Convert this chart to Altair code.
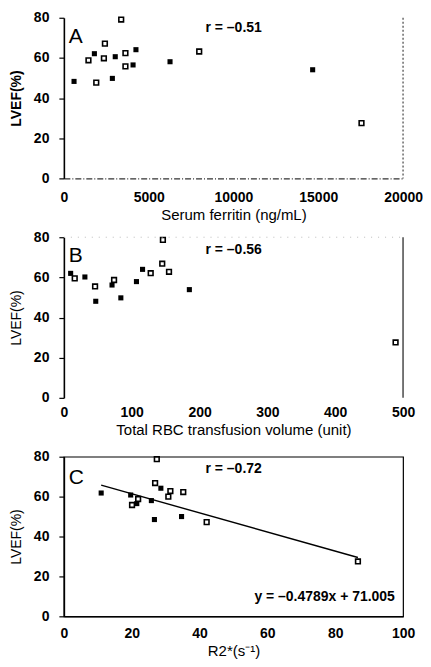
import altair as alt
import pandas as pd

# ---- data ----
A_open_x = [1450, 1910, 2360, 2420, 3380, 3630, 3630, 7980, 17550]
A_open_y = [58.8, 47.7, 59.8, 67.1, 79.1, 62.4, 55.8, 63.2, 27.5]
A_filled_x = [600, 1800, 2860, 3030, 4080, 4250, 6260, 14670]
A_filled_y = [48.3, 62.1, 49.8, 60.6, 56.5, 64.1, 58.1, 54.1]

B_open_x = [16, 46, 74, 128, 145, 146, 155, 489]
B_open_y = [59.5, 55.5, 58.7, 62.1, 66.8, 78.7, 62.8, 27.6]
B_filled_x = [10, 31, 47, 71, 84, 107, 116, 185]
B_filled_y = [62.0, 60.2, 48.1, 56.2, 49.8, 57.9, 64.0, 53.9]

C_open_x = [20.1, 21.9, 26.9, 27.4, 30.8, 31.4, 35.2, 42.1, 86.7]
C_open_y = [55.8, 58.8, 66.8, 78.8, 60.0, 62.8, 62.3, 47.2, 27.5]
C_filled_x = [11.0, 19.7, 21.5, 25.8, 26.7, 28.6, 34.7]
C_filled_y = [61.8, 60.8, 56.5, 58.0, 48.5, 64.2, 50.0]

C_slope = -0.4789
C_intercept = 71.005

FONT = "Liberation Sans"
W, H = 340, 161


def make_df(ox, oy, fx, fy):
    return pd.DataFrame({
        "x": list(ox) + list(fx),
        "y": list(oy) + list(fy),
        "g": ["open"] * len(ox) + ["filled"] * len(fx),
    })


one = pd.DataFrame({"k": [0]})


def encodings(xdom, xvals, xtitle, xlabelpad, ytitle_bold, xdomain_style):
    xaxis = alt.Axis(values=xvals, format="d", title=xtitle, grid=False,
                     ticks=False, labelPadding=xlabelpad, titlePadding=3,
                     labelFont=FONT, labelFontSize=14, labelFontWeight="bold",
                     labelColor="black", titleFont=FONT, titleFontSize=15,
                     titleFontWeight="normal", titleColor="black",
                     labelFlush=False, **xdomain_style)
    yaxis = alt.Axis(values=[0, 20, 40, 60, 80], title="LVEF(%)", grid=False,
                     tickSize=5, tickColor="black", tickWidth=1.2,
                     labelPadding=10, titlePadding=10,
                     labelFont=FONT, labelFontSize=14, labelFontWeight="bold",
                     labelColor="black", titleFont=FONT, titleFontSize=14,
                     titleFontWeight="bold" if ytitle_bold else "normal",
                     titleColor="black", domainColor="black", domainWidth=1.6,
                     labelFlush=False, labelOverlap=False)
    x = alt.X("x:Q", scale=alt.Scale(domain=xdom, nice=False, zero=False), axis=xaxis)
    y = alt.Y("y:Q", scale=alt.Scale(domain=[0, 80], nice=False), axis=yaxis)
    return x, y


def points(df, x, y):
    opens = alt.Chart(df).transform_filter(alt.datum.g == "open").mark_point(
        shape="square", filled=False, stroke="black", strokeWidth=1.6, size=22,
        opacity=1).encode(x=x, y=y)
    filled = alt.Chart(df).transform_filter(alt.datum.g == "filled").mark_square(
        color="black", size=26, opacity=1).encode(x=x, y=y)
    return [opens, filled]


def labels(letter, rtext, ly=19, ry=11):
    let = alt.Chart(one).mark_text(
        text=letter, font=FONT, fontSize=21, align="left", baseline="middle",
        color="black").encode(x=alt.value(5), y=alt.value(ly))
    rt = alt.Chart(one).mark_text(
        text=rtext, font=FONT, fontSize=14, fontWeight="bold", align="left",
        baseline="middle", color="black").encode(x=alt.value(142), y=alt.value(ry))
    return [let, rt]


# Panel A
dfA = make_df(A_open_x, A_open_y, A_filled_x, A_filled_y)
xA, yA = encodings([0, 20000], [0, 5000, 10000, 15000, 20000],
                   "Serum ferritin (ng/mL)", 12, True,
                   dict(domainColor="#333", domainWidth=1.2, domainDash=[6, 2, 1, 2]))
borderA = alt.Chart(one).mark_rule(color="#444", strokeWidth=1.2, strokeDash=[2, 2]).encode(
    x=alt.value(W), y=alt.value(0), y2=alt.value(H))
chartA = alt.layer(*points(dfA, xA, yA), *labels("A", "r = \u20130.51", 19, 10),
                   borderA).properties(width=W, height=H,
                                       view=alt.ViewBackground(stroke=None))

# Panel B
dfB = make_df(B_open_x, B_open_y, B_filled_x, B_filled_y)
xB, yB = encodings([0, 500], [0, 100, 200, 300, 400, 500],
                   "Total RBC transfusion volume (unit)", 8, False, dict(domain=False))
borderB1 = alt.Chart(one).mark_rule(color="#555", strokeWidth=1.6).encode(
    x=alt.value(W), y=alt.value(0), y2=alt.value(H))
borderB2 = alt.Chart(one).mark_rule(color="#bbb", strokeWidth=1, strokeDash=[1, 6]).encode(
    x=alt.value(0), x2=alt.value(W), y=alt.value(0))
chartB = alt.layer(*points(dfB, xB, yB), *labels("B", "r = \u20130.56", 19, 13),
                   borderB1, borderB2).properties(width=W, height=H,
                                                  view=alt.ViewBackground(stroke=None))

# Panel C
dfC = make_df(C_open_x, C_open_y, C_filled_x, C_filled_y)
xC, yC = encodings([0, 100], [0, 20, 40, 60, 80, 100],
                   "R2*(s\u207b\u00b9)", 10, False,
                   dict(domainColor="black", domainWidth=1.2))
xs = list(C_open_x) + list(C_filled_x)
lineC = pd.DataFrame({"x": [min(xs), max(xs)]})
lineC["y"] = C_slope * lineC["x"] + C_intercept
reg = alt.Chart(lineC).mark_line(color="black", strokeWidth=1.4).encode(x=xC, y=yC)
eq = alt.Chart(one).mark_text(
    text="y = \u20130.4789x + 71.005", font=FONT, fontSize=14, fontWeight="bold",
    align="left", baseline="middle", color="black").encode(x=alt.value(191), y=alt.value(141))
chartC = alt.layer(reg, *points(dfC, xC, yC), *labels("C", "r = \u20130.72", 21, 12),
                   eq).properties(width=W, height=H - 1,
                                  view=alt.ViewBackground(stroke="black", strokeWidth=1.2))

chart = alt.vconcat(chartA, chartB, chartC, spacing=59, bounds="flush").properties(
    padding={"left": 0, "top": 2, "right": 0, "bottom": 0}
).configure(font=FONT).configure_view(strokeWidth=0)

chart.save("out.html", embed_options={"renderer": "svg", "actions": False})
